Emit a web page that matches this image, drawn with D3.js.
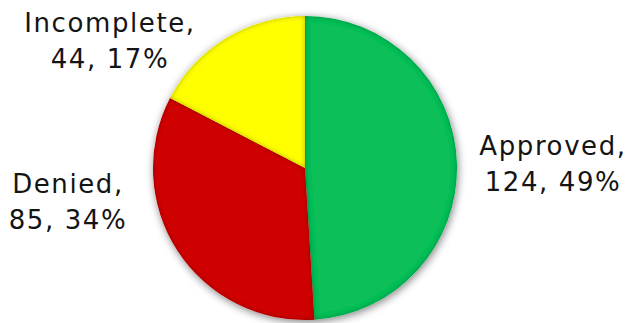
<!DOCTYPE html>
<html>
<head>
<meta charset="utf-8" />
<title>Applications pie</title>
<style>
html, body {
    margin: 0px;
    padding: 0px;
    background: #ffffff;
}
svg {
    display: block;
}
</style>
</head>
<body>
<svg id="chart" width="630" height="323"></svg>

<script src="https://cdn.jsdelivr.net/npm/d3@7"></script>
<script>
// data
var categories = ["Approved", "Denied", "Incomplete"]
var counts = [124, 85, 44]
var percents = ["49%", "34%", "17%"]
var colors = ["#0cbf58", "#cf0000", "#ffff00"]

var width = 630
var height = 323
var cx = 305, cy = 168, radius = 152

// where each label block sits (layout, not data)
var labelAt = {
    "Approved":   [553, 155],
    "Denied":     [68, 193],
    "Incomplete": [110, 32]
}
var lineGap = 36

var svg = d3.select("#chart")
var defs = svg.append("defs")

// soft drop shadow round the pie
var shadow = defs.append("filter")
    .attr("id", "shadow")
    .attr("x", "-20%").attr("y", "-20%")
    .attr("width", "140%").attr("height", "140%")
shadow.append("feGaussianBlur")
    .attr("in", "SourceAlpha")
    .attr("stdDeviation", 4)
    .attr("result", "blur")
shadow.append("feOffset")
    .attr("dx", 1).attr("dy", 2)
    .attr("result", "off")
shadow.append("feComponentTransfer")
    .attr("in", "off")
    .attr("result", "faint")
    .append("feFuncA").attr("type", "linear").attr("slope", 0.5)
var sm = shadow.append("feMerge")
sm.append("feMergeNode").attr("in", "faint")
sm.append("feMergeNode").attr("in", "SourceGraphic")

// darker bevel on the inside of each slice edge
var bevel = defs.append("filter")
    .attr("id", "bevel")
bevel.append("feGaussianBlur")
    .attr("in", "SourceAlpha")
    .attr("stdDeviation", 2.5)
    .attr("result", "blur")
bevel.append("feComposite")
    .attr("in", "SourceAlpha")
    .attr("in2", "blur")
    .attr("operator", "arithmetic")
    .attr("k2", 1).attr("k3", -1)
    .attr("result", "edge")
bevel.append("feFlood")
    .attr("flood-color", "#000")
    .attr("flood-opacity", 0.6)
bevel.append("feComposite")
    .attr("in2", "edge")
    .attr("operator", "in")
    .attr("result", "dark")
var bm = bevel.append("feMerge")
bm.append("feMergeNode").attr("in", "SourceGraphic")
bm.append("feMergeNode").attr("in", "dark")

var pie = d3.pie()
    .sort(null)
    .value(function(d){ return d.count })

var arc = d3.arc()
    .innerRadius(0)
    .outerRadius(radius)

var rows = categories.map(function(c, i){
    return { name: c, count: counts[i], pct: percents[i], color: colors[i] }
})

var g = svg.append("g")
    .attr("transform", "translate(" + [cx, cy] + ")")
    .attr("filter", "url(#shadow)")

g.selectAll("path")
    .data(pie(rows))
    .enter().append("path")
    .attr("d", arc)
    .attr("fill", function(d){ return d.data.color })
    .attr("filter", "url(#bevel)")

var labels = svg.selectAll("text.lbl")
    .data(rows)
    .enter().append("text")
    .attr("class", "lbl")
    .attr("text-anchor", "middle")
    .attr("font-family", "DejaVu Sans, sans-serif")
    .attr("font-size", 26)
    .attr("letter-spacing", 1.6)
    .attr("fill", "#141414")

labels.append("tspan")
    .attr("x", function(d){ return labelAt[d.name][0] })
    .attr("y", function(d){ return labelAt[d.name][1] })
    .text(function(d){ return d.name + "," })

labels.append("tspan")
    .attr("x", function(d){ return labelAt[d.name][0] })
    .attr("y", function(d){ return labelAt[d.name][1] + lineGap })
    .text(function(d){ return d.count + ", " + d.pct })
</script>
</body>
</html>
